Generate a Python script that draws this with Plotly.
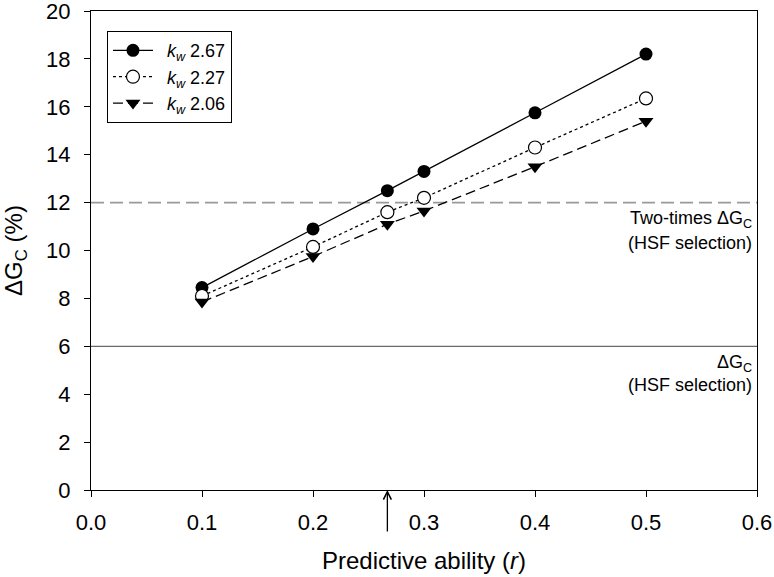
import plotly.graph_objects as go

r_values = [0.1, 0.2, 0.267, 0.3, 0.4, 0.5]
kw_267 = [8.45, 10.9, 12.5, 13.3, 15.75, 18.2]
kw_227 = [8.1, 10.15, 11.6, 12.2, 14.3, 16.35]
kw_206 = [7.85, 9.75, 11.1, 11.65, 13.5, 15.4]
series_names = ["\u2002<i>k</i><sub><i>w</i></sub> 2.67", "\u2002<i>k</i><sub><i>w</i></sub> 2.27",
                "\u2002<i>k</i><sub><i>w</i></sub> 2.06"]
hsf_gain = 6
two_times_gain = 12
arrow_r = 0.267

FONT = "Arial, Liberation Sans, sans-serif"

fig = go.Figure()
fig.add_trace(go.Scatter(x=r_values, y=kw_267, name=series_names[0], mode="lines+markers",
                         line=dict(color="black", width=1.3, dash="solid"),
                         marker=dict(symbol="circle", size=13, color="black")))
fig.add_trace(go.Scatter(x=r_values, y=kw_227, name=series_names[1], mode="lines+markers",
                         line=dict(color="black", width=1.3, dash="dot"),
                         marker=dict(symbol="circle", size=13, color="white",
                                     line=dict(color="black", width=1.2))))
fig.add_trace(go.Scatter(x=r_values, y=kw_206, name=series_names[2], mode="lines+markers",
                         line=dict(color="black", width=1.3, dash="10px,5px"),
                         marker=dict(symbol="triangle-down", size=13, color="black")))

fig.add_hline(y=two_times_gain, line=dict(color="#999999", width=1.6, dash="13px,6px"), layer="below")
fig.add_hline(y=hsf_gain, line=dict(color="#444444", width=1), layer="below")

ann_font = dict(family=FONT, size=18, color="black")
fig.add_annotation(x=0.5975, y=11.3, xref="x", yref="y", text="Two-times ΔG<sub>C</sub>",
                   showarrow=False, xanchor="right", yanchor="middle", font=ann_font)
fig.add_annotation(x=0.5975, y=10.3, xref="x", yref="y", text="(HSF selection)",
                   showarrow=False, xanchor="right", yanchor="middle", font=ann_font)
fig.add_annotation(x=0.5975, y=5.3, xref="x", yref="y", text="ΔG<sub>C</sub>",
                   showarrow=False, xanchor="right", yanchor="middle", font=ann_font)
fig.add_annotation(x=0.5975, y=4.4, xref="x", yref="y", text="(HSF selection)",
                   showarrow=False, xanchor="right", yanchor="middle", font=ann_font)

fig.add_annotation(x=arrow_r, y=0, xref="x", yref="y", text="", showarrow=True,
                   ax=0, ay=43, arrowhead=5, arrowsize=1.2, arrowwidth=1.3, arrowcolor="black")

fig.update_layout(
    width=774, height=577,
    margin=dict(l=91, r=17, t=11, b=87),
    plot_bgcolor="white", paper_bgcolor="white",
    font=dict(family=FONT, size=19, color="black"),
    showlegend=True,
    legend=dict(x=0.024, y=0.958, xanchor="left", yanchor="top",
                bordercolor="black", borderwidth=1, bgcolor="white",
                font=dict(family=FONT, size=18), tracegroupgap=0, itemwidth=40),
    xaxis=dict(range=[0, 0.6], tickvals=[0, 0.1, 0.2, 0.3, 0.4, 0.5, 0.6],
               ticktext=["0.0", "0.1", "0.2", "0.3", "0.4", "0.5", "0.6"],
               ticks="outside", ticklen=6, tickwidth=1, tickcolor="black",
               tickfont=dict(size=22), automargin=False, ticklabelstandoff=6,
               ticklabeloverflow="allow",
               showline=True, linecolor="black", linewidth=1.3, mirror=True,
               showgrid=False, zeroline=False,
               title=dict(text="Predictive ability (<i>r</i>)", font=dict(size=24), standoff=18)),
    yaxis=dict(range=[0, 20], tickvals=list(range(0, 21, 2)),
               ticks="outside", ticklen=6, tickwidth=1, tickcolor="black",
               tickfont=dict(size=22), automargin=False, ticklabelstandoff=9,
               ticklabeloverflow="allow",
               showline=True, linecolor="black", linewidth=1.3, mirror=True,
               showgrid=False, zeroline=False,
               title=dict(text="ΔG<sub>C</sub> (%)", font=dict(size=24), standoff=16)),
)

fig.write_html("out.html", config={"displayModeBar": False},
               post_script="document.body.style.margin='0';")
